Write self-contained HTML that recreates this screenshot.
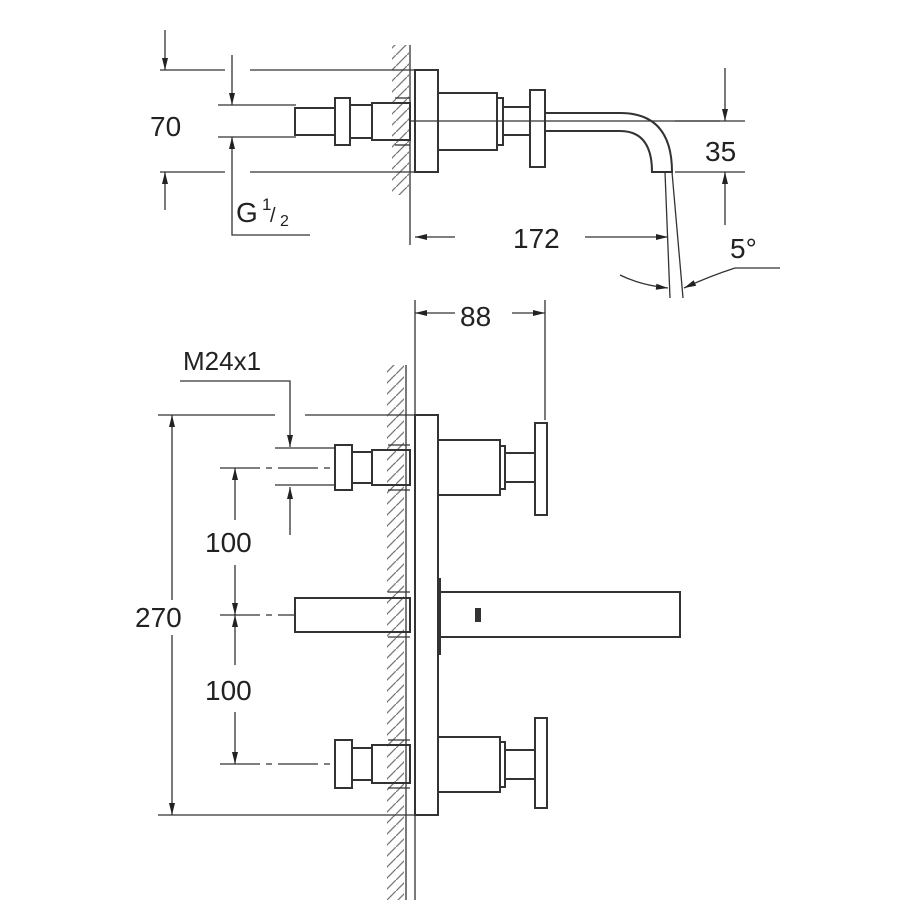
<!DOCTYPE html>
<html><head><meta charset="utf-8"><style>
html,body{margin:0;padding:0;background:#fff}
svg{display:block}
text{font-family:"Liberation Sans",sans-serif;fill:#222}
</style></head><body>
<svg width="900" height="900" viewBox="0 0 900 900" xmlns="http://www.w3.org/2000/svg">
<defs>
<marker id="a" viewBox="0 0 10 10" refX="10" refY="5" markerWidth="14" markerHeight="12" orient="auto-start-reverse" markerUnits="userSpaceOnUse">
<path d="M0,2.5 L10,5 L0,7.5 z" fill="#222"/></marker>
<pattern id="h" width="11" height="11" patternUnits="userSpaceOnUse">
<path d="M0,11 L11,0" stroke="#777" stroke-width="1.3"/></pattern>
</defs>
<g fill="none" stroke="#333" stroke-width="1.3">
<!-- TOP VIEW -->
<rect x="392" y="45" width="17" height="150" fill="url(#h)" stroke="none"/>
<line x1="410" y1="45" x2="410" y2="245"/>
<line x1="160" y1="70" x2="225" y2="70"/><line x1="250" y1="70" x2="415" y2="70"/>
<line x1="160" y1="172" x2="225" y2="172"/><line x1="250" y1="172" x2="415" y2="172"/>
<line x1="218" y1="105" x2="296" y2="105"/><line x1="218" y1="137" x2="296" y2="137"/>
<line x1="165" y1="30" x2="165" y2="70" marker-end="url(#a)"/>
<line x1="165" y1="210" x2="165" y2="172" marker-end="url(#a)"/>
<line x1="232" y1="55" x2="232" y2="105" marker-end="url(#a)"/>
<polyline points="310,235 232,235 232,137" marker-end="url(#a)"/>
<line x1="410" y1="121" x2="720" y2="121"/>
<g stroke-width="2">
<rect x="415" y="70" width="23" height="102"/>
<rect x="295" y="108" width="40" height="27"/>
<rect x="335" y="98" width="15" height="47"/>
<rect x="350" y="105" width="22" height="33"/>
<rect x="372" y="103" width="38" height="37"/>
<rect x="438" y="93" width="59" height="57"/>
<rect x="497" y="98" width="6" height="47"/>
<rect x="503" y="107" width="27" height="28"/>
<rect x="530" y="90" width="15" height="77"/>
<path d="M545,113 L620,113 Q672,113 672,172 L652,172 Q652,131 620,131 L545,131"/>
</g>
<line x1="395" y1="98" x2="410" y2="98"/><line x1="395" y1="145" x2="410" y2="145"/>
<line x1="675" y1="121" x2="745" y2="121"/><line x1="675" y1="172" x2="745" y2="172"/>
<line x1="725" y1="68" x2="725" y2="121" marker-end="url(#a)"/>
<line x1="725" y1="225" x2="725" y2="172" marker-end="url(#a)"/>
<line x1="455" y1="237" x2="415" y2="237" marker-end="url(#a)"/>
<line x1="585" y1="237" x2="668" y2="237" marker-end="url(#a)"/>
<line x1="665" y1="172" x2="670" y2="298"/><line x1="672" y1="172" x2="683" y2="298"/>
<path d="M620,275 Q640,285 668,288" marker-end="url(#a)"/>
<path d="M735,268 Q710,276 684,288" marker-end="url(#a)"/>
<line x1="735" y1="268" x2="780" y2="268"/>
<!-- BOTTOM VIEW -->
<line x1="415" y1="300" x2="415" y2="900"/>
<line x1="545" y1="300" x2="545" y2="420"/>
<line x1="455" y1="313" x2="415" y2="313" marker-end="url(#a)"/>
<line x1="512" y1="313" x2="545" y2="313" marker-end="url(#a)"/>
<rect x="387" y="365" width="17" height="535" fill="url(#h)" stroke="none"/>
<line x1="406" y1="365" x2="406" y2="900"/>
<polyline points="180,381 290,381 290,447" marker-end="url(#a)"/>
<line x1="290" y1="535" x2="290" y2="487" marker-end="url(#a)"/>
<line x1="158" y1="415" x2="275" y2="415"/><line x1="305" y1="415" x2="415" y2="415"/>
<line x1="158" y1="815" x2="415" y2="815"/>
<line x1="275" y1="448" x2="335" y2="448"/><line x1="275" y1="485" x2="335" y2="485"/>
<line x1="220" y1="468" x2="335" y2="468" stroke-dasharray="40,6,6,6"/>
<line x1="220" y1="615" x2="295" y2="615" stroke-dasharray="40,6,6,6"/>
<line x1="220" y1="764" x2="335" y2="764" stroke-dasharray="40,6,6,6"/>
<line x1="172" y1="600" x2="172" y2="415" marker-end="url(#a)"/>
<line x1="172" y1="635" x2="172" y2="815" marker-end="url(#a)"/>
<line x1="235" y1="520" x2="235" y2="468" marker-end="url(#a)"/>
<line x1="235" y1="565" x2="235" y2="615" marker-end="url(#a)"/>
<line x1="235" y1="665" x2="235" y2="615" marker-end="url(#a)"/>
<line x1="235" y1="712" x2="235" y2="764" marker-end="url(#a)"/>
<g stroke-width="2">
<rect x="415" y="415" width="23" height="400"/>
<rect x="335" y="445" width="17" height="45"/>
<rect x="352" y="452" width="20" height="31"/>
<rect x="372" y="450" width="38" height="35"/>
<rect x="438" y="440" width="62" height="55"/>
<rect x="500" y="446" width="5" height="43"/>
<rect x="505" y="453" width="30" height="29"/>
<rect x="535" y="423" width="12" height="92"/>
<rect x="295" y="598" width="115" height="34"/>
<rect x="440" y="592" width="240" height="45"/>
<line x1="440" y1="578" x2="440" y2="655"/>
<rect x="476" y="609" width="4" height="12" fill="#333"/>
<rect x="335" y="740" width="17" height="48"/>
<rect x="352" y="748" width="20" height="32"/>
<rect x="372" y="745" width="38" height="38"/>
<rect x="438" y="737" width="62" height="55"/>
<rect x="500" y="742" width="5" height="45"/>
<rect x="505" y="750" width="30" height="29"/>
<rect x="535" y="718" width="12" height="90"/>
</g>
<line x1="388" y1="445" x2="410" y2="445"/><line x1="388" y1="490" x2="410" y2="490"/>
<line x1="388" y1="592" x2="410" y2="592"/><line x1="388" y1="637" x2="410" y2="637"/>
<line x1="388" y1="740" x2="410" y2="740"/><line x1="388" y1="788" x2="410" y2="788"/>
</g>
<g font-size="28">
<text x="150" y="136">70</text>
<text x="236" y="222">G</text><text x="262" y="210" font-size="17">1</text><text x="270" y="222" font-size="20">/</text><text x="280" y="226" font-size="16">2</text>
<text x="705" y="161">35</text>
<text x="513" y="248">172</text>
<text x="730" y="258">5°</text>
<text x="460" y="326">88</text>
<text x="183" y="370" font-size="26">M24x1</text>
<text x="205" y="552">100</text>
<text x="135" y="627">270</text>
<text x="205" y="700">100</text>
</g>
</svg>
</body></html>
